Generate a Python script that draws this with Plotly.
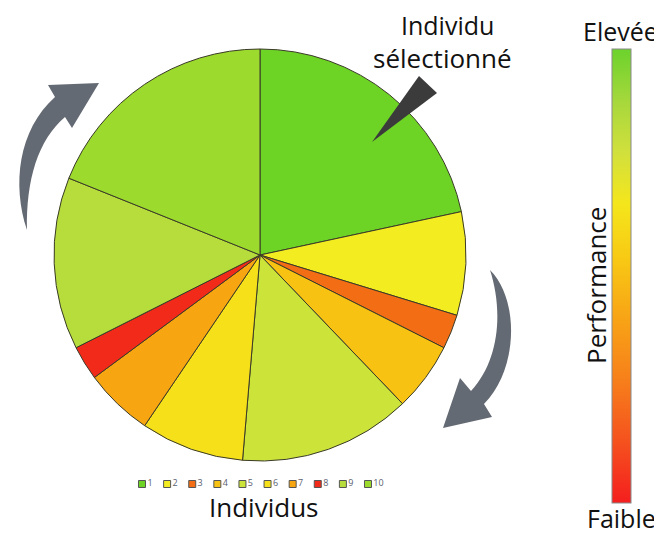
import plotly.graph_objects as go

# ---- data ----
individus = ["1", "2", "3", "4", "5", "6", "7", "8", "9", "10"]
parts = [8, 3, 1, 2, 5, 3, 2, 1, 5, 7]
couleurs = ["#6dd425", "#f2ec20", "#f26d14", "#f8c212", "#cce33a",
            "#f5e01a", "#f7a612", "#f22a1a", "#b7dd3c", "#9cda2e"]
legend_pos = list(range(1, 11))
perf_scale = [[0.0, "#f41e1e"], [0.13, "#f5501e"], [0.28, "#f7821a"],
              [0.43, "#f8aa15"], [0.545, "#f8cb14"], [0.66, "#f4e61c"],
              [0.77, "#d2e03c"], [0.88, "#a8d83c"], [1.0, "#6cd22c"]]

W, H = 662, 535
OX, OY = 8, 8  # page body margin
FONT = "Open Sans"


def fx(x):
    return (x - OX) / W


def fy(y):
    return 1 - (y - OY) / H


def path(cmds):
    out = []
    for c in cmds:
        if isinstance(c, str):
            out.append(c)
        else:
            out.append(f"{fx(c[0]):.5f},{fy(c[1]):.5f}")
    return " ".join(out)


fig = go.Figure()

fig.add_trace(go.Pie(
    labels=individus, values=parts, sort=False, direction="clockwise",
    rotation=0, textinfo="none", hoverinfo="label+value",
    marker=dict(colors=couleurs, line=dict(color="#3a3a28", width=1)),
    domain=dict(x=[fx(54), fx(466)], y=[fy(461), fy(49)]),
    showlegend=False,
))

# compact legend row
fig.add_trace(go.Scatter(
    x=legend_pos, y=[0] * len(legend_pos), mode="markers+text",
    text=individus, textposition="middle right",
    textfont=dict(family=FONT, size=9, color="#5b6070"),
    marker=dict(symbol="square", size=7, color=couleurs,
                line=dict(color="#555555", width=1)),
    xaxis="x2", yaxis="y2", showlegend=False, hoverinfo="skip",
    cliponaxis=False,
))

# colorbar carrier
fig.add_trace(go.Scatter(
    x=[None, None], y=[None, None], mode="markers",
    marker=dict(color=[0, 1], cmin=0, cmax=1, colorscale=perf_scale,
                showscale=True,
                colorbar=dict(x=fx(612), xanchor="left", thickness=19,
                              lenmode="pixels", len=454,
                              y=fy(276), yanchor="middle",
                              outlinewidth=1, outlinecolor="#8a8a8a",
                              showticklabels=False, ticks="",
                              xpad=0, ypad=0)),
    showlegend=False, hoverinfo="skip",
))

shapes = []
# left curved arrow
shapes.append(dict(type="path", xref="paper", yref="paper",
                   path=path(["M", (27, 230), "C", (12, 185), (18, 130), (55, 97),
                              "L", (48, 85), "L", (99, 83), "L", (72, 128),
                              "L", (65, 117), "C", (38, 140), (26, 180), (27, 230), "Z"]),
                   fillcolor="#646a73", line=dict(width=0)))
# right curved arrow
shapes.append(dict(type="path", xref="paper", yref="paper",
                   path=path(["M", (490, 270), "C", (520, 300), (518, 370), (484, 404),
                              "L", (492, 417), "L", (443, 428), "L", (460, 378),
                              "L", (471, 391), "C", (500, 360), (503, 310), (490, 270), "Z"]),
                   fillcolor="#646a73", line=dict(width=0)))
# pointer
shapes.append(dict(type="path", xref="paper", yref="paper",
                   path=path(["M", (372, 142), "L", (419, 76), "L", (437, 93), "Z"]),
                   fillcolor="#3b3b3b", line=dict(width=0)))

annotations = []


def add_text(txt, x, y, size=25, angle=0):
    annotations.append(dict(text=txt, x=fx(x), y=fy(y), xref="paper", yref="paper",
                            showarrow=False, textangle=angle,
                            font=dict(family=FONT, size=size, color="#111111"),
                            xanchor="center", yanchor="middle"))


add_text("Individu", 447, 25)
add_text("sélectionné", 442, 58, size=26)
add_text("Individus", 263, 507, size=26)
add_text("Elevée", 620, 31)
add_text("Faible", 621, 518)
add_text("Performance", 596, 286, size=26, angle=-90)

fig.update_layout(
    width=W, height=H, margin=dict(l=0, r=0, t=0, b=0),
    paper_bgcolor="white", plot_bgcolor="white",
    xaxis=dict(visible=False), yaxis=dict(visible=False),
    xaxis2=dict(domain=[fx(116.9), fx(393.1)], range=[0, 11], visible=False,
                anchor="y2"),
    yaxis2=dict(domain=[fy(494), fy(474)], range=[-1, 1], visible=False,
                anchor="x2"),
    shapes=shapes, annotations=annotations,
)

fig.write_html("out.html")
